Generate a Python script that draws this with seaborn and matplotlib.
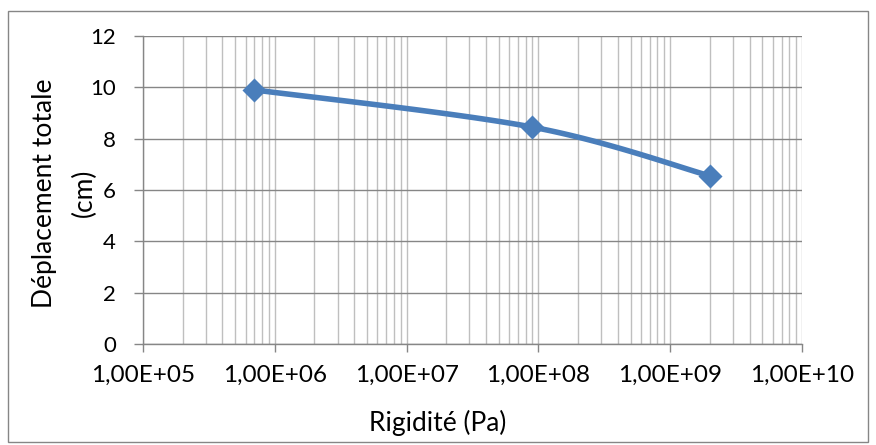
import numpy as np
import pandas as pd
import matplotlib
matplotlib.use("Agg")
import matplotlib.pyplot as plt
import seaborn as sns
from matplotlib.ticker import LogLocator, FixedLocator, FuncFormatter, NullFormatter
from matplotlib.patches import Rectangle

# Data
rigidite = [7.0e5, 9.0e7, 2.0e9]          # Pa
deplacement = [9.9, 8.45, 6.55]          # cm

x_label = "Rigidité (Pa)"
y_label_lines = ["Déplacement totale", "(cm)"]
y_ticks = [0, 2, 4, 6, 8, 10, 12]

sns.set_theme(style="white")
plt.rcParams["font.family"] = ["Lato", "DejaVu Sans"]

BLUE = "#4A7EBB"
GRID_MINOR = "#BFBFBF"
GRID_MAJOR = "#868686"

W, H = 876, 445
fig = plt.figure(figsize=(W / 100, H / 100), dpi=100)
left, right, top, bottom = 143, 802, 36, 344
ax = fig.add_axes([left / W, 1 - bottom / H, (right - left) / W, (bottom - top) / H])

ax.set_xscale("log")
ax.set_xlim(1e5, 1e10)
ax.set_ylim(0, 12)

df = pd.DataFrame({"x": rigidite, "y": deplacement})

# Smoothed curve (Catmull-Rom Bezier in display space, like spreadsheet smoothing)
fig.canvas.draw()
pts = ax.transData.transform(np.column_stack([df["x"], df["y"]]))
P = np.vstack([pts[0], pts, pts[-1]])
curve = []
for i in range(1, len(P) - 2):
    p0, p1, p2, p3 = P[i - 1], P[i], P[i + 1], P[i + 2]
    c1 = p1 + (p2 - p0) / 6.0
    c2 = p2 - (p3 - p1) / 6.0
    t = np.linspace(0, 1, 60)[:, None]
    seg = ((1 - t) ** 3) * p1 + 3 * ((1 - t) ** 2) * t * c1 + 3 * (1 - t) * t ** 2 * c2 + t ** 3 * p2
    curve.append(seg if i == 1 else seg[1:])
curve = np.vstack(curve)
curve_data = ax.transData.inverted().transform(curve)
smooth = pd.DataFrame({"x": curve_data[:, 0], "y": curve_data[:, 1]})

sns.lineplot(data=smooth, x="x", y="y", ax=ax, color=BLUE, linewidth=4.0,
             sort=False, estimator=None, zorder=3)
sns.scatterplot(data=df, x="x", y="y", ax=ax, color=BLUE, marker="D", s=150,
                edgecolor=BLUE, linewidth=0, zorder=4)

# Axes, ticks and grid
ax.xaxis.set_major_locator(LogLocator(base=10, numticks=10))
ax.xaxis.set_minor_locator(LogLocator(base=10, subs=np.arange(2, 10), numticks=20))
ax.xaxis.set_minor_formatter(NullFormatter())
ax.yaxis.set_major_locator(FixedLocator(y_ticks))

def sci_fr(v, pos):
    e = int(round(np.log10(v)))
    return f"1,00E+{e:02d}"

ax.xaxis.set_major_formatter(FuncFormatter(sci_fr))

ax.grid(which="major", axis="y", color=GRID_MAJOR, linewidth=1.0)
ax.grid(which="major", axis="x", color=GRID_MINOR, linewidth=1.0)
ax.grid(which="minor", axis="x", color=GRID_MINOR, linewidth=1.0)
ax.set_axisbelow(True)

for side in ["top", "right"]:
    ax.spines[side].set_visible(False)
for side in ["left", "bottom"]:
    ax.spines[side].set_color(GRID_MAJOR)
    ax.spines[side].set_linewidth(1.0)

ax.tick_params(axis="x", which="major", direction="out", length=6, width=1,
               color=GRID_MAJOR, labelsize=17.5, pad=9, bottom=True,
               labelcolor="black")
ax.tick_params(axis="x", which="minor", length=0)
ax.tick_params(axis="y", which="major", direction="out", length=6.5, width=1,
               color=GRID_MAJOR, labelsize=16, pad=13, left=True,
               labelcolor="black")

ax.set_xlabel(x_label, fontsize=19, color="black")
ax.xaxis.set_label_coords((438 - left) / (right - left), -(410 - bottom) / (bottom - top))
ax.set_ylabel("")

# Vertical axis title, two lines
yc = (bottom - 193) / (bottom - top)
for text, xc_px in zip(y_label_lines, [45, 84]):
    ax.text((xc_px - left) / (right - left), yc, text, transform=ax.transAxes,
            rotation=90, ha="center", va="center", fontsize=19, color="black")

# Chart frame
fig.patches.append(Rectangle((8 / W, 1 - 442 / H), 860 / W, 431 / H,
                             transform=fig.transFigure, fill=False,
                             edgecolor="#868686", linewidth=1.0))

fig.savefig("out.png", dpi=100, facecolor="white")
